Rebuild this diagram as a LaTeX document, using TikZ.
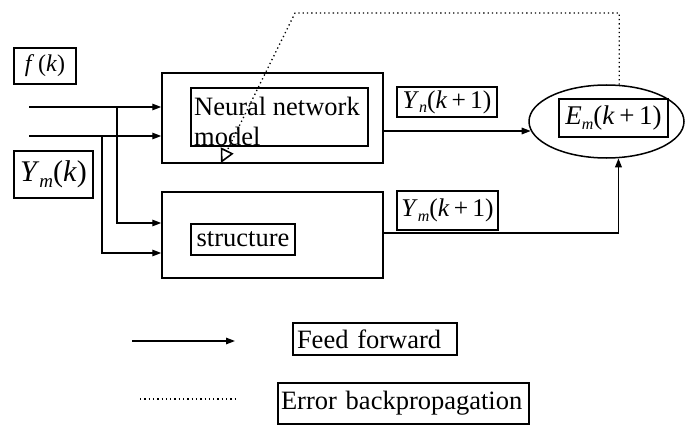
\documentclass[tikz,border=0pt]{standalone}
\usepackage{fontspec}
\setmainfont{Liberation Serif}
\usetikzlibrary{arrows.meta,shapes.geometric}

\newcommand{\indice}[1]{\raisebox{-0.4ex}{\fontsize{16}{16}\selectfont\textit{#1}}}

\begin{document}
\begin{tikzpicture}[x=1pt,y=-1pt,
		bloc/.style={draw, line width=1.5pt, inner sep=0pt},
		etiq/.style={draw, line width=1.8pt, inner sep=0pt, font=\fontsize{25.5}{30}\selectfont},
		mot/.style={font=\fontsize{26.5}{30}\selectfont},
		flux/.style={-{Triangle[length=9pt,width=6.5pt]}, line width=1.4pt},
		retro/.style={line width=1.3pt, dash pattern=on 1.3pt off 3pt}]
		% Cadre de l'image
		\useasboundingbox (0,0) rectangle (685,425);
		
		% Création des nœuds
		\node[etiq, minimum width=62pt, minimum height=36pt, font=\fontsize{24}{28}\selectfont] (fk) at (45,66) {\textit{f}\,(\textit{k})};
		\node[etiq, minimum width=79pt, minimum height=47pt, font=\fontsize{30}{34}\selectfont] (ymk) at (53.5,174.5) {\textit{Y}\raisebox{-0.4ex}{\fontsize{19}{19}\selectfont\textit{m}}(\textit{k})};
		\node[bloc, minimum width=221pt, minimum height=90pt] (nn) at (272.5,118) {};
		\node[etiq, minimum width=177pt, minimum height=58pt] (nnbox) at (279.5,117) {};
		\node[mot, anchor=north west, inner sep=0pt, align=left] (nntxt) at (194,97) {Neural network\\model};
		\node[bloc, minimum width=221pt, minimum height=86pt] (st) at (272.5,235) {};
		\node[etiq, mot, minimum width=104pt, minimum height=31pt] (stbox) at (243,239.5) {structure};
		\node[etiq, minimum width=100pt, minimum height=30pt] (yn) at (447,102) {\textit{Y}\indice{n}(\textit{k}\,+\,1)};
		\node[etiq, minimum width=101pt, minimum height=39pt] (ym) at (447.5,210.5) {\textit{Y}\indice{m}(\textit{k}\,+\,1)};
		\node[bloc, ellipse, minimum width=155pt, minimum height=73pt] (err) at (606.5,121.5) {};
		\node[etiq, minimum width=109pt, minimum height=38pt, font=\fontsize{27}{30}\selectfont] (em) at (613.5,118) {\textit{E}\indice{m}(\textit{k}\,+\,1)};
		
		% Légende
		\node[etiq, mot, text width=156pt, inner xsep=4pt, minimum height=32pt, align=left] (ff) at (375,339) {Feed forward};
		\node[etiq, mot, text width=245pt, inner xsep=3pt, minimum height=41pt, align=left] (eb) at (403.5,403.5) {Error backpropagation};
		
		% Points libres
		\coordinate (in1) at (29,107);
		\coordinate (in2) at (29,136);
		\coordinate (j1) at (117,107);
		\coordinate (j2) at (102,136);
		\coordinate (tc) at (295,13);
		\coordinate (tip) at (221,163);
		\coordinate (la) at (132,341);
		\coordinate (lb) at (235,341);
		\coordinate (lc) at (140,399);
		\coordinate (ld) at (235,399);
		
		% Flèches
		\draw[flux] (in1) -- (in1 -| nn.west);
		\draw[flux] (in2) -- (in2 -| nn.west);
		\draw[flux] (j1) |- ([yshift=12pt]st.west);
		\draw[flux] (j2) |- ([yshift=-18pt]st.west);
		\draw[flux] ([yshift=-13pt]nn.east) -- ([yshift=-13pt]nn.east -| err.187);
		\draw[flux, line width=1.9pt] ([yshift=2pt]st.east) -| (err.288.4);
		\draw[retro, -{Triangle[open, length=14pt, width=14pt, line width=1.6pt]}] (err.71.6) |- (tc) -- (tip);
		\draw[flux] (la) -- (lb);
		\draw[retro] (lc) -- (ld);
	\end{tikzpicture}
\end{document}
